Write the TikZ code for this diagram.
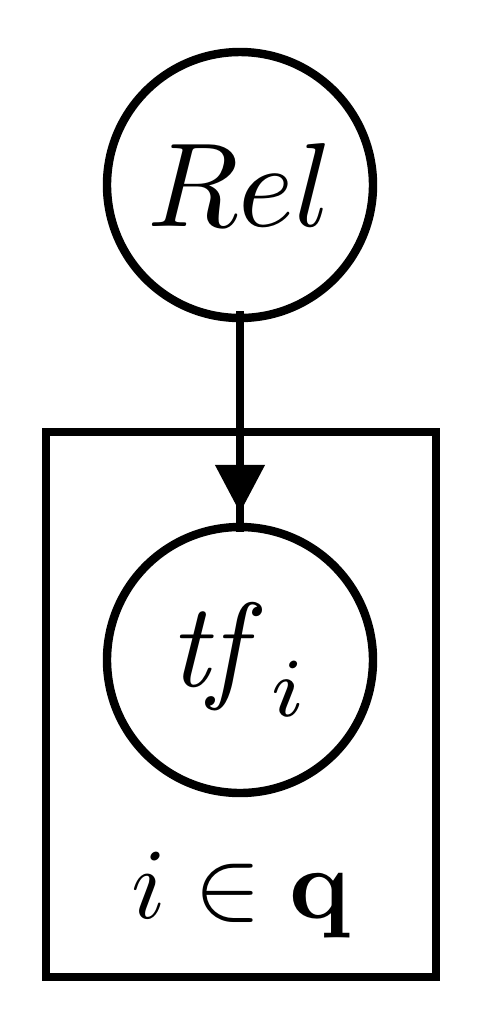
\documentclass[tikz,border=0pt]{standalone}
\usepackage{amsmath,amssymb}
\usepackage{graphicx}
\usepackage{tikz}
\usetikzlibrary{positioning, shapes, arrows.meta}

\begin{document}
\begin{tikzpicture}[
        var/.style={circle, draw, line width=2.4pt, minimum size=2.66cm, inner sep=0pt},
        plate/.style={draw, line width=2.5pt}]
        \useasboundingbox (0,0) rectangle (4.78,-10.18);
        \node[var] (rel) at (2.40,-1.85) {\scalebox{3.4}{$Rel$}};
        \node[var] (tf) at (2.40,-6.60) {\scalebox{3.4}{$\mathit{tf}_i$}};
        \draw[plate] (0.46,-4.32) rectangle (4.36,-9.77);
        \node[anchor=base, inner sep=0pt] (lab) at (2.41,-9.18) {\scalebox{2.86}{$i \in \mathbf{q}$}};
        \draw[line width=2.3pt, shorten <=-0.11cm, shorten >=-0.09cm] (rel) -- (tf);
        \draw[line width=2.3pt, shorten >=0.10cm, -{Triangle[length=0.48cm, width=0.48cm]}] (rel) -- (tf);
    \end{tikzpicture}
\end{document}
